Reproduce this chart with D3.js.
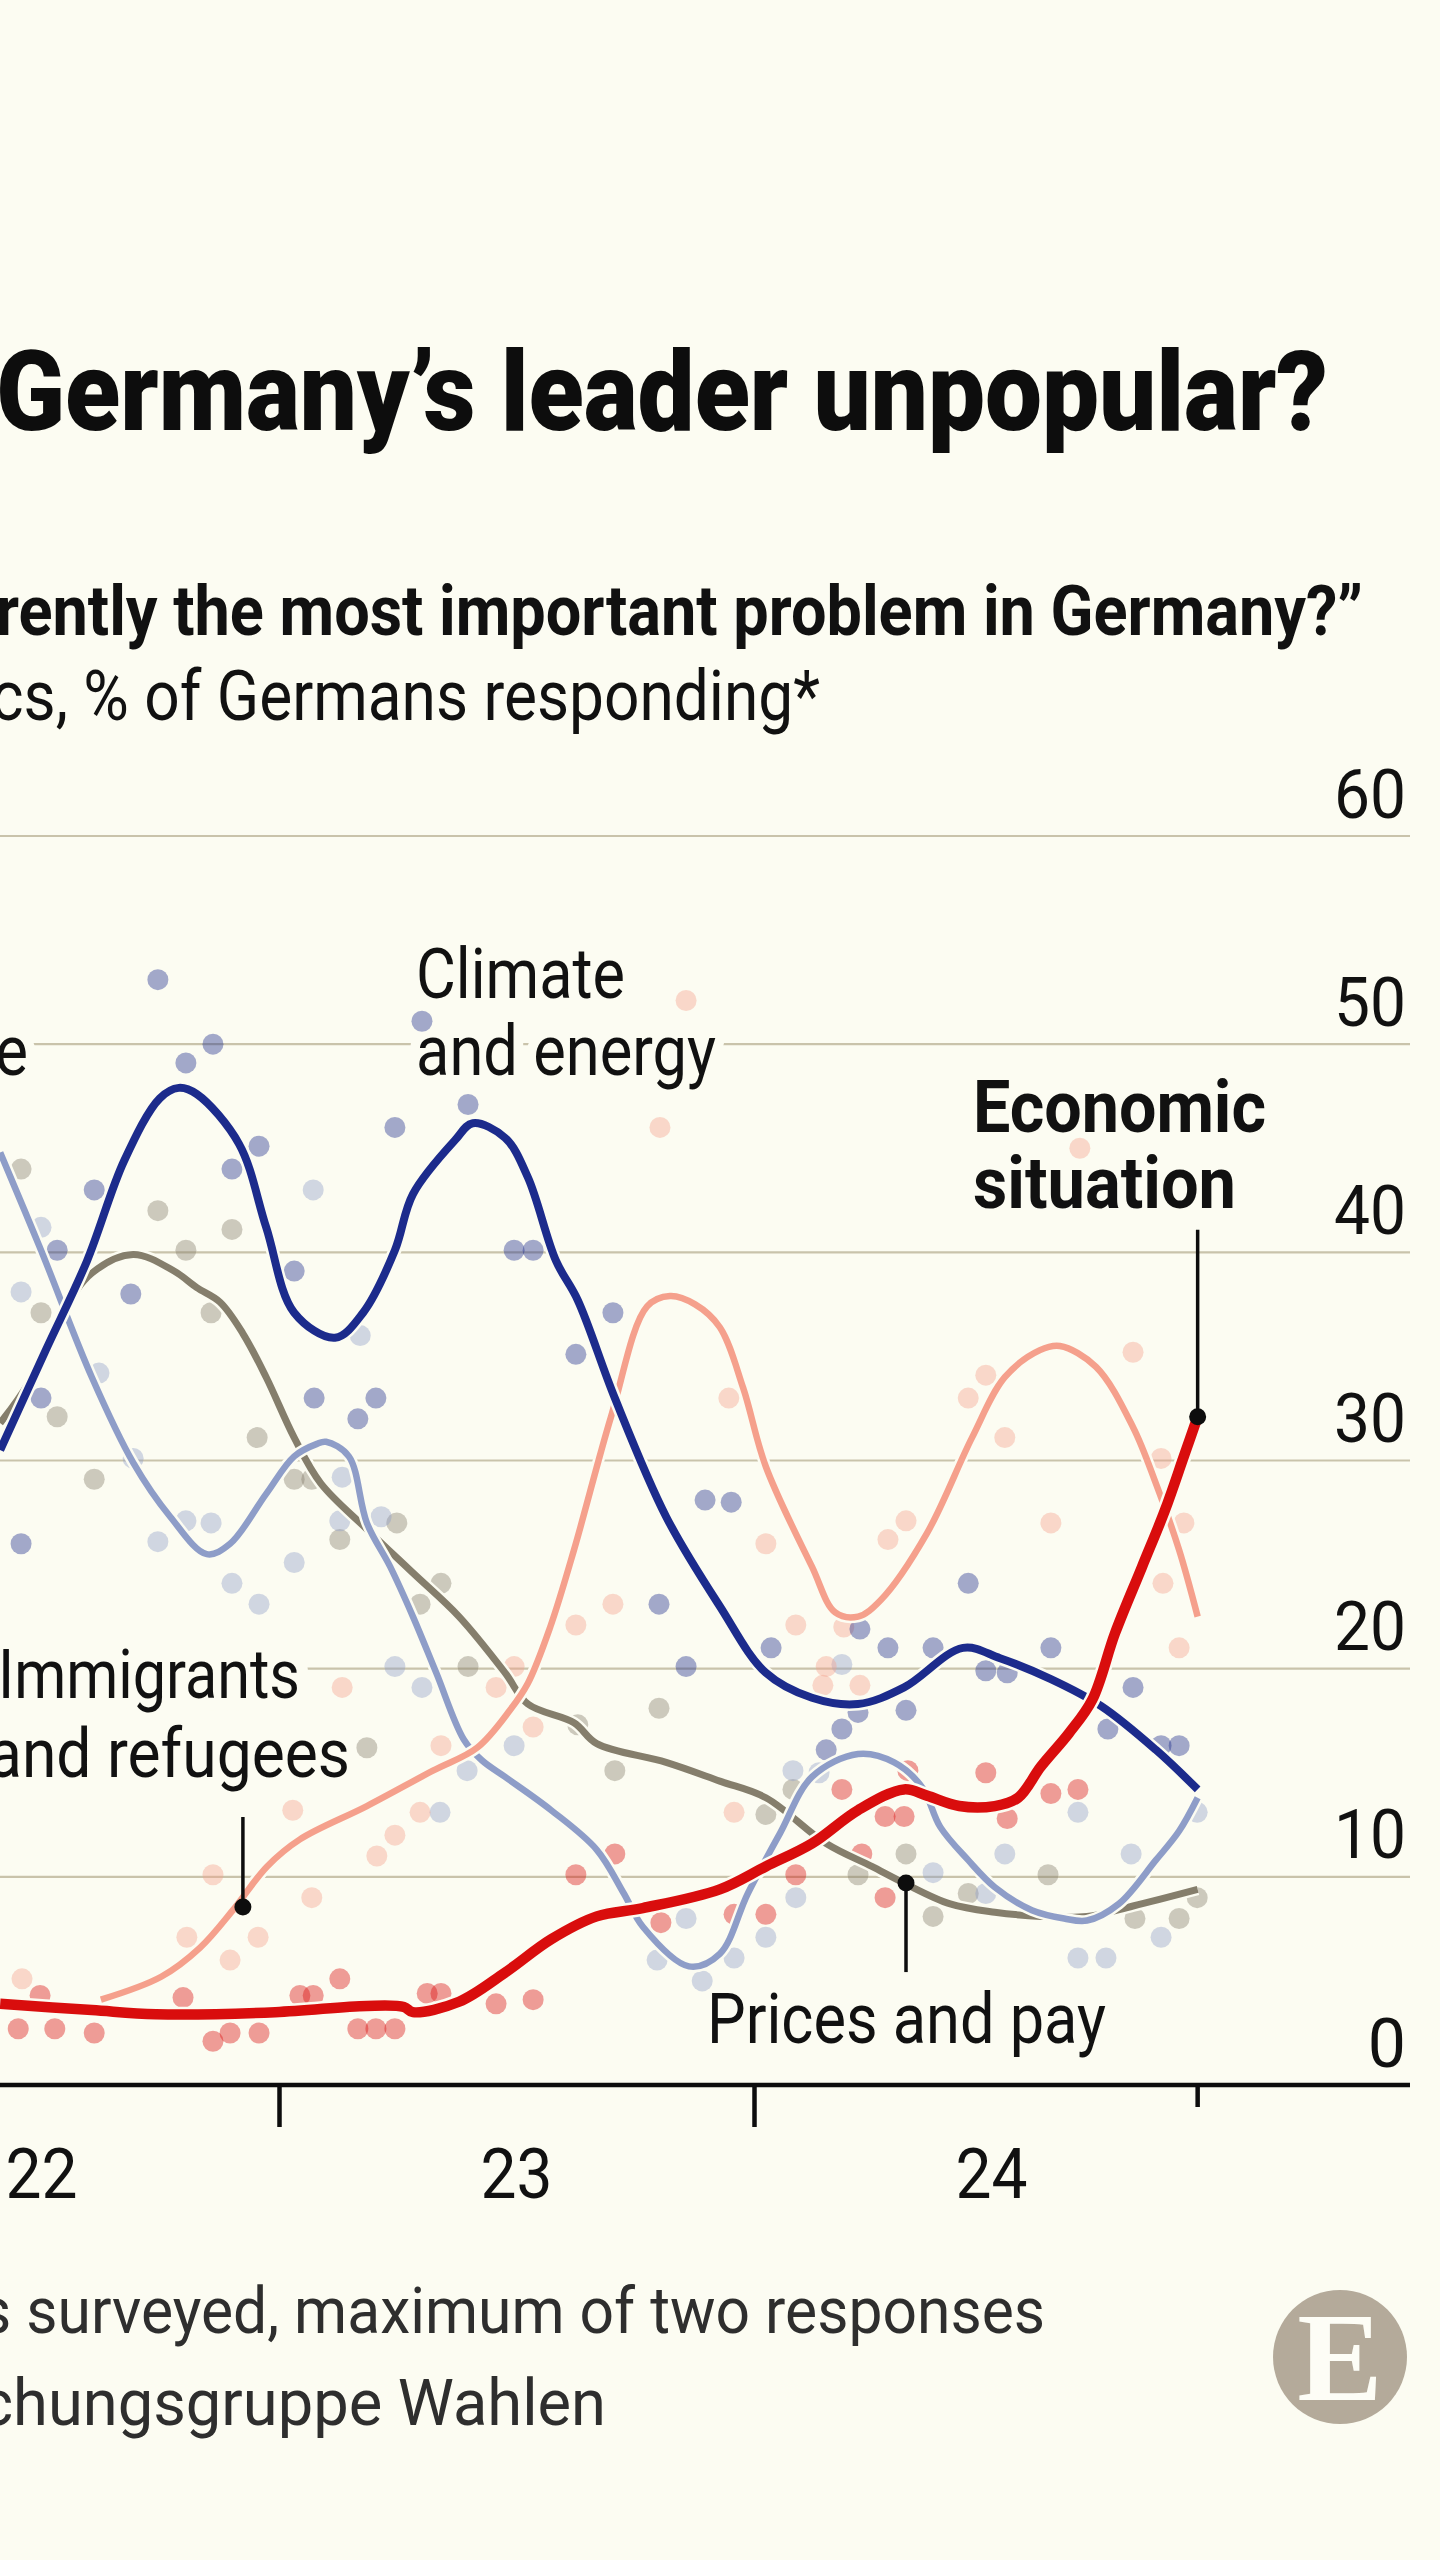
<!DOCTYPE html>
<html><head><meta charset="utf-8">
<script src="https://cdn.jsdelivr.net/npm/d3@7"></script>
<style>
html,body{margin:0;padding:0;background:#fcfcf2;}
svg{display:block;}
</style></head>
<body>
<svg id="chart" width="1440" height="2560"></svg>
<script>
// ---------------- DATA (decimal year, % of respondents) ----------------
const yearTicks = [2022, 2023, 2024];
const yearLabels = ["22", "23", "24"];
const yTicks = [0, 10, 20, 30, 40, 50, 60];

// Climate and energy (navy)
const climateLine = [[2022.413,30.5],[2022.509,35.3],[2022.596,39.6],[2022.674,44.4],[2022.749,47.4],[2022.789,47.9],[2022.827,47.6],[2022.916,45.2],[2022.973,41.2],[2023.032,37.1],[2023.118,35.9],[2023.177,37.1],[2023.244,40.1],[2023.282,42.8],[2023.371,45.4],[2023.408,46.2],[2023.476,45.5],[2023.524,43.6],[2023.583,39.6],[2023.629,37.7],[2023.707,33.0],[2023.815,27.3],[2023.928,23.0],[2024.025,19.8],[2024.122,18.6],[2024.219,18.3],[2024.316,19.1],[2024.440,21.0],[2024.518,20.5],[2024.625,19.5],[2024.731,18.2],[2024.846,16.1],[2024.934,14.2]];
const climateDots = [[2022.745,53.1],[2022.861,50.0],[2022.804,49.1],[2023.301,51.1],[2023.398,47.1],[2023.244,46.0],[2022.958,45.1],[2022.901,44.0],[2022.611,43.0],[2022.533,40.1],[2023.495,40.1],[2023.535,40.1],[2022.688,38.0],[2023.032,39.1],[2023.703,37.1],[2023.625,35.1],[2022.499,33.0],[2023.074,33.0],[2023.204,33.0],[2023.166,32.0],[2023.897,28.1],[2022.457,26.0],[2023.800,23.1],[2023.857,20.1],[2023.952,28.0],[2024.036,21.0],[2024.282,21.0],[2024.377,21.0],[2024.625,21.0],[2024.451,24.1],[2024.223,21.9],[2024.488,19.9],[2024.533,19.8],[2024.798,19.1],[2024.219,17.9],[2024.320,18.0],[2024.185,17.1],[2024.745,17.1],[2024.152,16.1],[2024.895,16.3],[2024.857,16.3]];

// Light blue-grey series (label cut off, only "e" visible)
const blueGreyLine = [[2022.413,44.8],[2022.499,40.1],[2022.606,34.0],[2022.693,29.9],[2022.771,27.3],[2022.848,25.5],[2022.897,26.0],[2022.973,28.4],[2023.032,30.2],[2023.080,30.8],[2023.099,30.9],[2023.147,30.2],[2023.185,27.0],[2023.234,24.9],[2023.282,22.5],[2023.331,19.8],[2023.389,16.6],[2023.427,15.6],[2023.476,14.8],[2023.573,13.2],[2023.669,11.3],[2023.726,9.2],[2023.766,7.6],[2023.863,5.7],[2023.928,6.3],[2023.987,9.2],[2024.055,12.1],[2024.122,14.8],[2024.219,15.9],[2024.295,15.5],[2024.354,14.3],[2024.392,12.4],[2024.451,10.8],[2024.507,9.5],[2024.585,8.4],[2024.653,8.0],[2024.701,7.9],[2024.768,8.7],[2024.846,10.8],[2024.895,12.2],[2024.934,13.8]];
const blueGreyDots = [[2023.072,43.0],[2022.499,41.2],[2022.457,38.1],[2023.171,36.0],[2022.621,34.2],[2022.693,30.1],[2023.133,29.2],[2022.804,27.1],[2022.857,27.0],[2022.745,26.1],[2023.128,27.1],[2023.215,27.3],[2023.032,25.1],[2022.901,24.1],[2022.958,23.1],[2023.244,20.1],[2023.301,19.1],[2023.495,16.3],[2023.396,15.1],[2023.339,13.1],[2023.857,8.0],[2023.891,5.0],[2023.796,6.0],[2024.185,20.2],[2024.082,15.1],[2024.137,15.0],[2024.682,13.1],[2024.933,13.1],[2024.088,9.0],[2024.025,7.1],[2023.958,6.1],[2024.377,10.2],[2024.488,9.2],[2024.528,11.1],[2024.682,6.1],[2024.741,6.1],[2024.794,11.1],[2024.857,7.1]];

// Prices and pay (grey-brown)
const pricesLine = [[2022.413,31.8],[2022.472,33.7],[2022.539,36.9],[2022.606,39.0],[2022.693,39.9],[2022.779,39.1],[2022.827,38.3],[2022.876,37.6],[2022.924,36.1],[2022.973,34.0],[2023.032,31.1],[2023.088,28.9],[2023.185,26.7],[2023.282,24.6],[2023.379,22.5],[2023.476,19.8],[2023.524,18.3],[2023.621,17.4],[2023.669,16.4],[2023.815,15.5],[2023.928,14.6],[2024.025,13.8],[2024.152,11.6],[2024.248,10.5],[2024.316,9.7],[2024.413,8.7],[2024.507,8.3],[2024.604,8.1],[2024.701,8.1],[2024.798,8.6],[2024.934,9.4]];
const pricesDots = [[2022.457,44.0],[2022.745,42.0],[2022.901,41.1],[2022.804,40.1],[2022.499,37.1],[2022.857,37.1],[2022.533,32.1],[2022.954,31.1],[2022.611,29.1],[2023.032,29.1],[2023.069,29.1],[2023.128,26.2],[2023.248,27.0],[2023.341,24.1],[2023.297,23.1],[2023.398,20.1],[2023.800,18.1],[2023.629,17.3],[2023.185,16.2],[2023.707,15.1],[2024.082,14.2],[2024.025,13.0],[2024.320,11.1],[2024.219,10.1],[2024.377,8.1],[2024.451,9.2],[2024.619,10.1],[2024.802,8.0],[2024.895,8.0],[2024.933,9.0]];

// Immigrants and refugees (salmon)
const migrationLine = [[2022.625,4.1],[2022.752,5.2],[2022.834,6.6],[2022.903,8.4],[2022.975,10.5],[2023.044,11.8],[2023.185,13.4],[2023.324,15.1],[2023.417,16.2],[2023.486,18.0],[2023.524,19.3],[2023.571,22.0],[2023.621,25.7],[2023.699,32.1],[2023.775,37.4],[2023.823,37.9],[2023.876,37.5],[2023.928,36.4],[2023.977,33.5],[2024.025,29.7],[2024.122,24.9],[2024.171,22.7],[2024.219,22.5],[2024.267,23.3],[2024.364,26.5],[2024.459,31.1],[2024.528,34.0],[2024.602,35.3],[2024.644,35.5],[2024.720,34.5],[2024.798,31.6],[2024.846,28.9],[2024.895,25.7],[2024.934,22.5]];
const migrationDots = [[2023.857,52.1],[2023.802,46.0],[2024.686,45.0],[2023.947,33.0],[2024.025,26.0],[2024.088,22.1],[2024.189,22.0],[2024.798,35.2],[2024.488,34.1],[2024.451,33.0],[2024.528,31.1],[2024.857,30.1],[2024.320,27.1],[2024.282,26.2],[2024.625,27.0],[2024.905,27.0],[2024.861,24.1],[2024.895,21.0],[2024.152,20.1],[2024.145,19.2],[2024.223,19.2],[2023.703,23.1],[2023.625,22.1],[2023.495,20.1],[2023.133,19.1],[2023.457,19.1],[2023.535,17.2],[2023.341,16.3],[2023.029,13.2],[2023.297,13.1],[2023.244,12.0],[2023.206,11.0],[2022.861,10.1],[2023.069,9.0],[2022.806,7.1],[2022.956,7.1],[2022.897,6.0],[2022.459,5.1],[2023.958,13.1]];

// Economic situation (red)
const economyLine = [[2022.413,3.9],[2022.606,3.6],[2022.741,3.4],[2022.992,3.5],[2023.185,3.8],[2023.263,3.75],[2023.282,3.5],[2023.379,4.0],[2023.476,5.4],[2023.573,7.0],[2023.669,8.1],[2023.766,8.5],[2023.928,9.4],[2024.025,10.5],[2024.122,11.6],[2024.219,13.2],[2024.316,14.2],[2024.364,13.9],[2024.432,13.4],[2024.507,13.4],[2024.556,13.8],[2024.604,15.3],[2024.663,16.9],[2024.712,18.5],[2024.760,21.7],[2024.817,24.9],[2024.865,27.6],[2024.905,30.2],[2024.934,32.1]];
const economyDots = [[2023.128,5.1],[2022.497,4.3],[2022.798,4.2],[2023.044,4.3],[2023.072,4.3],[2023.312,4.4],[2023.341,4.4],[2022.451,2.7],[2022.528,2.7],[2022.611,2.5],[2022.861,2.1],[2022.897,2.5],[2022.958,2.5],[2023.166,2.7],[2023.204,2.7],[2023.244,2.7],[2023.457,3.9],[2023.535,4.1],[2023.707,11.1],[2023.625,10.1],[2023.804,7.8],[2024.185,14.2],[2024.324,15.1],[2024.276,12.9],[2024.316,12.9],[2024.488,15.0],[2024.625,14.0],[2024.682,14.2],[2024.533,12.8],[2024.088,10.1],[2023.958,8.2],[2024.025,8.2],[2024.227,11.1],[2024.276,9.0]];

const lastDate = 2024.934;

// ---------------- STYLE / LAYOUT ----------------
const BG = "#fcfcf2";
const series = [
  {line: pricesLine,    dots: pricesDots,    color: "#857e6c", width: 7},
  {line: blueGreyLine,  dots: blueGreyDots,  color: "#8e9dc8", width: 6.5},
  {line: migrationLine, dots: migrationDots, color: "#f5a08c", width: 6.5},
  {line: climateLine,   dots: climateDots,   color: "#1c2b8c", width: 8},
  {line: economyLine,   dots: economyDots,   color: "#d90d0d", width: 10.5}
];

const svg = d3.select("#chart");
svg.append("rect").attr("width",1440).attr("height",2560).attr("fill",BG);

const x = d3.scaleLinear().domain([2023, 2024]).range([279, 754]);
const y = d3.scaleLinear().domain([0, 60]).range([2085, 836]);
const plotRight = 1410;

const FONT = "Roboto, 'Noto Sans', sans-serif";

function txt(g, s, o) {
  const t = g.append("text").text(s)
    .attr("x", o.x).attr("y", o.y)
    .attr("font-family", o.family || FONT)
    .attr("font-size", o.size)
    .attr("font-weight", o.weight || 400)
    .attr("fill", o.fill || "#111")
    .attr("text-anchor", o.anchor || "start");
  if (o.len) t.attr("textLength", o.len).attr("lengthAdjust", "spacingAndGlyphs");
  if (o.halo) t.attr("stroke", BG).attr("stroke-width", o.halo).attr("stroke-linejoin","round").attr("paint-order","stroke");
  return t;
}

// Title & subtitle
txt(svg, "Germany\u2019s leader unpopular?", {x:-4, y:430, size:112, weight:900, len:1332, fill:"#0d0d0d"});
txt(svg, "rently the most important problem in Germany?\u201d", {x:-4, y:635, size:70, weight:700, len:1367, fill:"#111"});
txt(svg, "cs, % of Germans responding*", {x:-9, y:720, size:70, weight:400, len:829, fill:"#111"});

// Gridlines
const grid = svg.append("g");
grid.selectAll("line").data(yTicks.filter(d => d > 0)).join("line")
  .attr("x1", 0).attr("x2", plotRight)
  .attr("y1", d => y(d)).attr("y2", d => y(d))
  .attr("stroke", "#c9c3ab").attr("stroke-width", 2.2);

// Y-axis labels (right side, above gridlines)
const yAxis = d3.axisRight(y).tickValues(yTicks).tickSize(0).tickFormat(d3.format("d"));
const yg = svg.append("g").attr("transform", `translate(${1406},0)`).call(yAxis);
yg.select(".domain").remove();
yg.selectAll("text")
  .attr("x", 0).attr("dy", -19).attr("text-anchor", "end")
  .attr("font-family", FONT).attr("font-size", 68).attr("fill", "#111")
  .attr("textLength", 72).attr("lengthAdjust", "spacingAndGlyphs");
yg.selectAll("text").filter(d => d === 0).attr("textLength", null);

// Labels with halos that break gridlines (drawn before lines)
const lab = svg.append("g");
txt(lab, "e", {x:-5, y:1075, size:70, len:33, halo:22});
txt(lab, "Climate", {x:416, y:998, size:70, len:209, halo:22});
txt(lab, "and energy", {x:416, y:1075, size:70, len:300, halo:22});
txt(lab, "Immigrants", {x:-2, y:1698, size:68, len:302, halo:26});
txt(lab, "and refugees", {x:-12, y:1777, size:68, len:362, halo:22});

// Dots
const dotsG = svg.append("g");
series.forEach(s => {
  dotsG.append("g").selectAll("circle").data(s.dots).join("circle")
    .attr("cx", d => x(d[0])).attr("cy", d => y(d[1])).attr("r", 10.5)
    .attr("fill", s.color).attr("fill-opacity", 0.4);
});

// Lines with background casing
const lineGen = d3.line().x(d => x(d[0])).y(d => y(d[1])).curve(d3.curveCatmullRom.alpha(0.5));
const linesG = svg.append("g");
series.forEach(s => {
  linesG.append("path").attr("d", lineGen(s.line)).attr("fill","none")
    .attr("stroke", BG).attr("stroke-width", s.width + 5).attr("stroke-linejoin","round");
  linesG.append("path").attr("d", lineGen(s.line)).attr("fill","none")
    .attr("stroke", s.color).attr("stroke-width", s.width)
    .attr("stroke-linejoin","round").attr("stroke-linecap","butt");
});

// X axis
const xAxis = d3.axisBottom(x).tickValues(yearTicks).tickSize(42).tickFormat("");
const xg = svg.append("g").attr("transform", `translate(0,${y(0)})`).call(xAxis);
xg.select(".domain").remove();
xg.selectAll("line").attr("stroke", "#0d0d0d").attr("stroke-width", 4.5);
svg.append("line").attr("x1", 0).attr("x2", plotRight).attr("y1", y(0)).attr("y2", y(0))
  .attr("stroke", "#0d0d0d").attr("stroke-width", 4.5);
svg.append("line").attr("x1", x(lastDate)).attr("x2", x(lastDate))
  .attr("y1", y(0)).attr("y2", y(0) + 22).attr("stroke", "#0d0d0d").attr("stroke-width", 4.5);
svg.append("g").selectAll("text").data(yearLabels).join("text")
  .text(d => d)
  .attr("x", (d, i) => x(yearTicks[i] + 0.5)).attr("y", 2198)
  .attr("text-anchor", "middle").attr("font-family", FONT).attr("font-size", 70)
  .attr("fill", "#111").attr("textLength", 72).attr("lengthAdjust", "spacingAndGlyphs");

// Annotations (pointer lines with dots)
const ann = svg.append("g");
function pointer(t, v, dy) {
  const px = x(t), py = y(v);
  ann.append("line").attr("x1", px).attr("x2", px).attr("y1", py).attr("y2", py + dy)
    .attr("stroke", "#0d0d0d").attr("stroke-width", 3.5);
  ann.append("circle").attr("cx", px).attr("cy", py).attr("r", 8.5).attr("fill", "#0d0d0d");
}
pointer(2022.924, 8.55, -90);           // Immigrants and refugees
pointer(2024.320, 9.7, 89);             // Prices and pay
pointer(lastDate, 32.1, -187);          // Economic situation

txt(ann, "Economic", {x:973, y:1132, size:72, weight:700, len:293});
txt(ann, "situation", {x:973, y:1208, size:72, weight:700, len:263});
txt(ann, "Prices and pay", {x:707, y:2043, size:70, len:399});

// Footnote & source
txt(svg, "s surveyed, maximum of two responses", {x:-20, y:2333, size:64, len:1065, fill:"#2e2e2e"});
txt(svg, "chungsgruppe Wahlen", {x:-20, y:2425, size:64, len:626, fill:"#2e2e2e"});

// Economist logo
svg.append("circle").attr("cx", 1340).attr("cy", 2357).attr("r", 67).attr("fill", "#b4aa9a");
txt(svg, "E", {x:1340, y:2400, size:128, weight:700, anchor:"middle", fill:"#fdfdf6", family:"'Liberation Serif', 'DejaVu Serif', serif"});
</script>
</body></html>
